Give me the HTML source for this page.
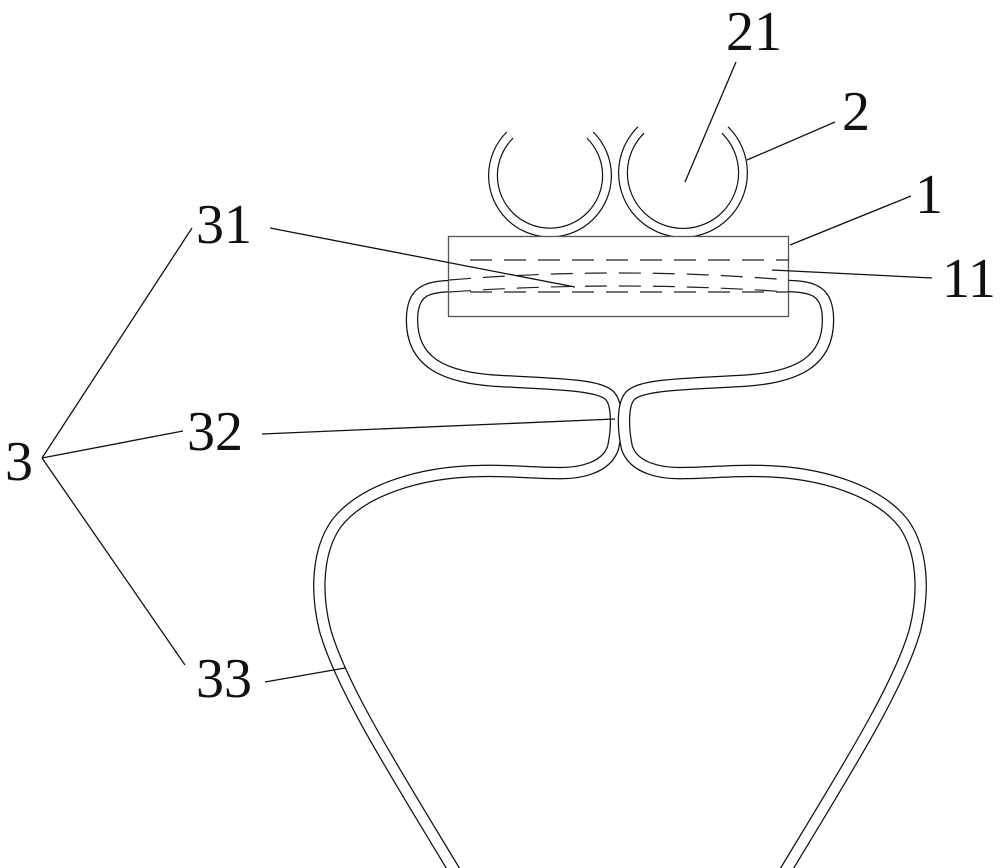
<!DOCTYPE html>
<html><head><style>
html,body{margin:0;padding:0;background:#fff;}
svg{display:block;}
text{font-family:"Liberation Serif",serif;font-size:56px;fill:#111;}
</style></head><body>
<svg width="1000" height="868" viewBox="0 0 1000 868" xmlns="http://www.w3.org/2000/svg">
<defs>
<path id="half" d="M455,286 C425,286 412,292 412,320 C412,360 440,378 500,381 C560,384 600,385 610,396 C618,405 617,430 613,448 C606,468 580,474 555,473 C530,473 505,470 480,471 C420,472 362,490 336,524 C318,550 315,590 325,630 C342,690 400,780 460,880"/>
</defs>
<g fill="none">
<use href="#half" stroke="#111" stroke-width="12.5"/>
<use href="#half" stroke="#fff" stroke-width="10"/>
<g transform="translate(1240,0) scale(-1,1)">
<use href="#half" stroke="#111" stroke-width="12.5"/>
<use href="#half" stroke="#fff" stroke-width="10"/>
</g>
<path d="M510,135 A57,57 0 1,0 590,135" stroke="#111" stroke-width="10"/>
<path d="M510,135 A57,57 0 1,0 590,135" stroke="#fff" stroke-width="7.6"/>
<path d="M641,130 A60,60 0 1,0 725,130" stroke="#111" stroke-width="10"/>
<path d="M641,130 A60,60 0 1,0 725,130" stroke="#fff" stroke-width="7.6"/>
</g>
<rect x="448.5" y="236.5" width="340" height="80" fill="#fff" stroke="#555" stroke-width="1.3"/>
<g fill="none" stroke="#222" stroke-width="1.2" stroke-dasharray="22,12">
<line x1="470" y1="260" x2="789" y2="260"/>
<line x1="470" y1="292" x2="789" y2="292"/>
<path d="M449,280 Q618,266 789,280"/>
<path d="M449,292 Q618,280 789,292"/>
</g>
<g stroke="#111" stroke-width="1.3" fill="none">
<line x1="736" y1="62" x2="685" y2="182"/>
<line x1="835" y1="122" x2="747" y2="160"/>
<line x1="911" y1="196" x2="790" y2="245"/>
<line x1="932" y1="278" x2="772" y2="270"/>
<line x1="270" y1="228" x2="575" y2="287"/>
<line x1="262" y1="434" x2="615" y2="419"/>
<line x1="265" y1="682" x2="345" y2="668"/>
<line x1="42" y1="458" x2="192" y2="228"/>
<line x1="42" y1="458" x2="183" y2="431"/>
<line x1="42" y1="458" x2="185" y2="665"/>
</g>
<text x="726" y="50">21</text>
<text x="842" y="130">2</text>
<text x="915" y="213">1</text>
<text x="942" y="297">11</text>
<text x="196" y="243">31</text>
<text x="187" y="450">32</text>
<text x="5" y="480">3</text>
<text x="196" y="697">33</text>
</svg>
</body></html>
